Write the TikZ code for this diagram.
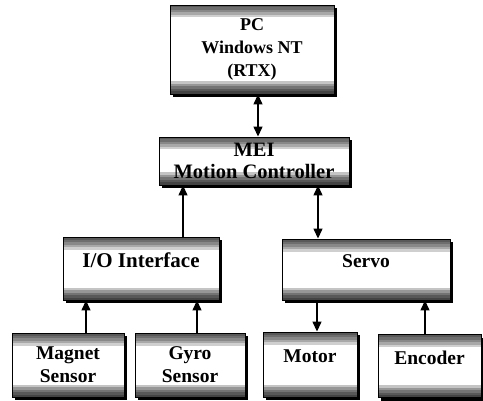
\documentclass[tikz,border=0pt]{standalone}
\usepackage{fontspec}
\setmainfont{Liberation Serif}
\usetikzlibrary{arrows.meta,shadows,positioning}
\tikzset{>={Triangle[length=10pt,width=9pt]}}
\tikzset{
  blk/.style={draw=black, line width=0.9pt, fill=white, align=center,
    inner sep=0pt, font=\bfseries\fontsize{19.5}{23}\selectfont,
    drop shadow={shadow xshift=3pt, shadow yshift=-3pt, fill=black, opacity=1},
    path picture={
      \foreach \h in {2.5,5,7.5,10,12.5}{
        \fill [black, opacity=0.19] (path picture bounding box.north west) rectangle ([yshift=-\h pt]path picture bounding box.north east);
        \fill [black, opacity=0.23] (path picture bounding box.south west) rectangle ([yshift=\h pt]path picture bounding box.south east);
      }}},
  raised/.style={text depth=16pt},
  link/.style={line width=1.4pt}
}

\begin{document}
\begin{tikzpicture}[x=1pt,y=1pt]
        \useasboundingbox (0,0) rectangle (483,400);
        % top level
        \node [blk, minimum width=164pt, minimum height=89pt, font=\bfseries\fontsize{18}{23}\selectfont] (pc) at (252,350.5) {PC\\Windows NT\\(RTX)};
        \node [blk, minimum width=190pt, minimum height=48pt, font=\bfseries\fontsize{20.5}{22}\selectfont] (mei) at (254,239) {MEI\\Motion Controller};
        % middle level
        \node [blk, raised, minimum width=156pt, minimum height=63pt, font=\bfseries\fontsize{21}{23}\selectfont] (io) at (141,131.5) {I/O Interface};
        \node [blk, raised, minimum width=168pt, minimum height=61pt] (servo) at (366,130.5) {Servo};
        % devices
        \node [blk, minimum width=112pt, minimum height=64pt] (magnet) at (68,35) {Magnet\\Sensor};
        \node [blk, minimum width=110pt, minimum height=64pt] (gyro) at (190,35) {Gyro\\Sensor};
        \node [blk, raised, minimum width=94pt, minimum height=65pt] (motor) at (310,35.5) {Motor};
        \node [blk, raised, minimum width=103pt, minimum height=63pt] (encoder) at (429.5,34) {Encoder};
        % connections
        \draw [link,<->] ([xshift=6pt]pc.south) -- ([xshift=6pt]pc.south |- mei.north);
        \draw [link,->] ([xshift=42pt]io.north) -- ([xshift=42pt]io.north |- mei.south);
        \draw [link,<->] ([xshift=-48pt]servo.north |- mei.south) -- ([xshift=-48pt]servo.north);
        \draw [link,->] ([xshift=18pt]magnet.north) -- ([xshift=18pt]magnet.north |- io.south);
        \draw [link,->] ([xshift=7pt]gyro.north) -- ([xshift=7pt]gyro.north |- io.south);
        \draw [link,->] ([xshift=7pt]motor.north |- servo.south) -- ([xshift=7pt]motor.north);
        \draw [link,->] ([xshift=-4.5pt]encoder.north) -- ([xshift=-4.5pt]encoder.north |- servo.south);
      \end{tikzpicture}
\end{document}
